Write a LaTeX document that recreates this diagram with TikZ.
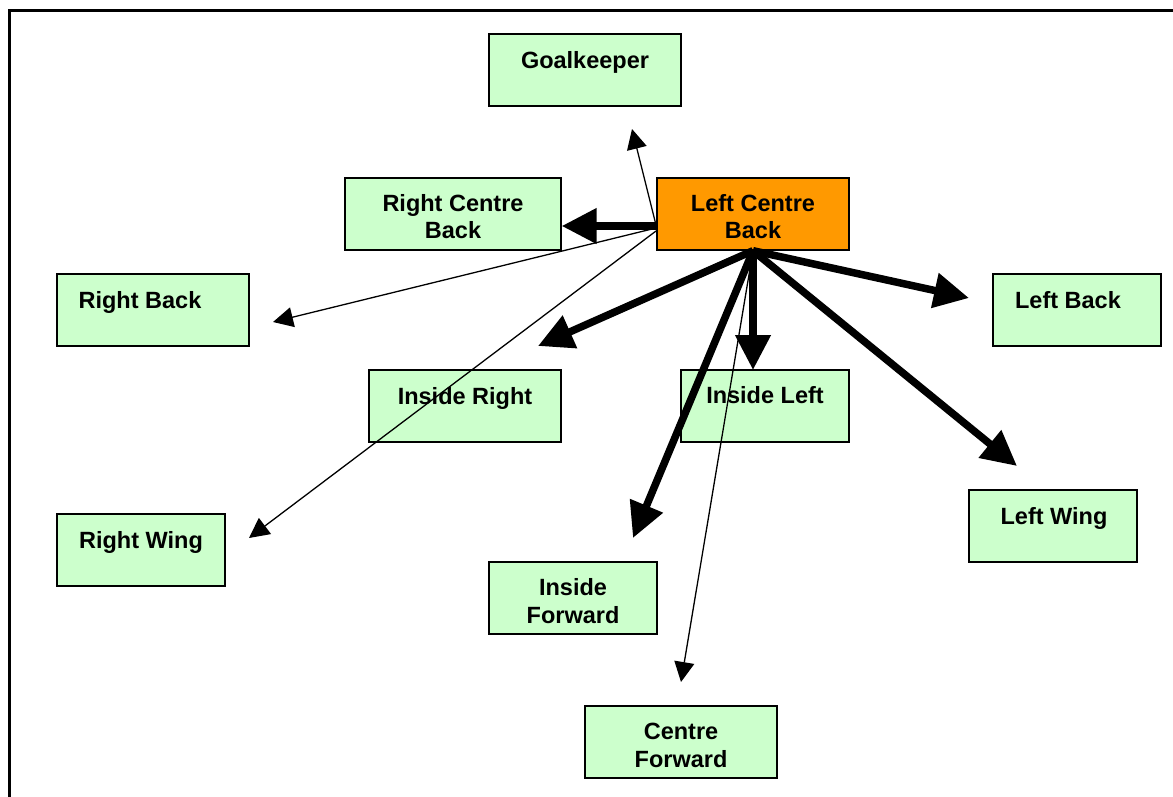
\documentclass[tikz,border=0pt]{standalone}
\usepackage{fontspec}
\setmainfont{Liberation Sans}
\usetikzlibrary{arrows.meta}
\definecolor{boxgreen}{HTML}{CCFFCC}
\definecolor{boxorange}{HTML}{FF9900}
\begin{document}
\begin{tikzpicture}[x=1pt,y=-1pt,
  box/.style={draw=black, line width=1.4pt, fill=boxgreen, minimum width=#1, minimum height=72pt, inner sep=0pt},
  box/.default=192pt,
  lbl/.style={font=\fontsize{23.5}{27}\selectfont\bfseries, anchor=base, inner sep=0pt},
  thin/.style={line width=1.3pt, -{Triangle[length=20pt,width=20pt]}},
  thick/.style={line width=7.5pt, -{Triangle[length=35pt,width=34pt]}}]
\clip (0,0) rectangle (1173,796);
\draw[line width=2.2pt] (9.5,10.5) rectangle (1200,820);
% boxes
\node[box] (gk) at (585,70) {};
\node[box=216pt] (rcb) at (453,214) {};
\node[box, fill=boxorange] (lcb) at (753,214) {};
\node[box] (rb) at (153,310) {};
\node[box=168pt] (lb) at (1077,310) {};
\node[box] (ir) at (465,406) {};
\node[box=168pt] (il) at (765,406) {};
\node[box=168pt] (rw) at (141,550) {};
\node[box=168pt] (lw) at (1053,526) {};
\node[box=168pt] (if) at (573,598) {};
\node[box] (cf) at (681,742) {};
% texts
\node[lbl] (tgk) at (585,68) {Goalkeeper};
\node[lbl] (trcb1) at (453,211) {Right Centre};
\node[lbl] (trcb2) at (453,238) {Back};
\node[lbl] (tlcb1) at (753,211) {Left Centre};
\node[lbl] (tlcb2) at (753,238) {Back};
\node[lbl] (trb) at (140,308) {Right Back};
\node[lbl] (tlb) at (1068,308) {Left Back};
\node[lbl] (tir) at (465,404) {Inside Right};
\node[lbl] (til) at (765,403) {Inside Left};
\node[lbl] (trw) at (141,548) {Right Wing};
\node[lbl] (tlw) at (1054,524) {Left Wing};
\node[lbl] (tif1) at (573,595) {Inside};
\node[lbl] (tif2) at (573,623) {Forward};
\node[lbl] (tcf1) at (681,739) {Centre};
\node[lbl] (tcf2) at (681,767) {Forward};
% connector end points
\coordinate (o1) at (656,225);
\coordinate (o2) at (656,228);
\coordinate (o3) at (656,231);
\coordinate (gkTip) at (632,129);
\coordinate (rbTip) at (273,322);
\coordinate (rwTip) at (249,538);
\coordinate (irTip) at (538,346);
\coordinate (ilTip) at (753,370);
\coordinate (lbTip) at (969,298);
\coordinate (lwTip) at (1017,466);
\coordinate (ifTip) at (633,538);
\coordinate (cfTip) at (681,682);
% connectors
\draw[thin] (o1) -- (gkTip);
\draw[thin] (o2) -- (rbTip);
\draw[thin] (o3) -- (rwTip);
\draw[thick] (lcb.west |- 0,226) -- (rcb.east |- 0,226);
\draw[thick] (lcb.south) -- (irTip);
\draw[thick] (lcb.south) -- (ilTip);
\draw[thick] (lcb.south) -- (lbTip);
\draw[thick] (lcb.south) -- (lwTip);
\draw[thick] (lcb.south) -- (ifTip);
\draw[thin] (lcb.south) -- (cfTip);
\end{tikzpicture}
\end{document}
